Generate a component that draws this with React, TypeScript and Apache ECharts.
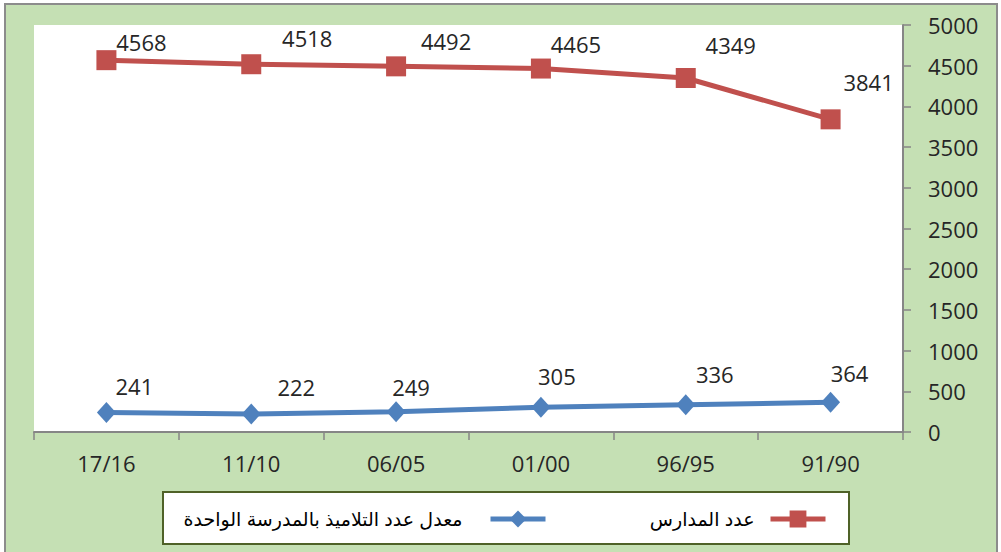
import React, { useEffect, useRef } from "react";
import * as echarts from "echarts";

const categories = ["17/16", "11/10", "06/05", "01/00", "96/95", "91/90"];
const schoolsName = "عدد المدارس";
const avgName = "معدل عدد التلاميذ بالمدرسة الواحدة";
const schools = [4568, 4518, 4492, 4465, 4349, 3841];
const avgPupils = [241, 222, 249, 305, 336, 364];
const yTicks = { min: 0, max: 5000, interval: 500 };

const schoolsLabelOffsets = [
  [35, -18],
  [56, -26],
  [50, -25],
  [35, -25],
  [45, -33],
  [38, -37],
];
const avgLabelOffsets = [
  [28, -26],
  [45, -27],
  [15, -25],
  [16, -31],
  [29, -31],
  [19, -29],
];

const FONT = "'Open Sans', 'Noto Sans', sans-serif";
const AR_FONT = "'Liberation Sans', 'DejaVu Sans', sans-serif";
const RED = "#C0504D";
const BLUE = "#4F81BD";
const AXIS = "#868686";
const TEXT = "#262626";

export default function App() {
  const ref = useRef<HTMLDivElement>(null);
  useEffect(() => {
    if (!ref.current) return;
    const chart = echarts.init(ref.current, null, { renderer: "svg" });
    const labelBase = {
      show: true,
      position: "inside",
      fontSize: 22,
      fontFamily: FONT,
      color: TEXT,
    };
    const legendBase = {
      top: 509.5,
      padding: 0,
      itemWidth: 55,
      itemHeight: 21,
      align: "right",
      lineStyle: { width: 5 },
    };
    chart.setOption({
      animation: false,
      backgroundColor: "#ffffff",
      graphic: [
        {
          type: "rect",
          z: -10,
          shape: { x: 5, y: 4, width: 992, height: 560 },
          style: { fill: "#C5E0B4", stroke: "#8C8C8C", lineWidth: 2 },
        },
        {
          type: "rect",
          z: 1,
          shape: { x: 163, y: 492, width: 686, height: 52 },
          style: { fill: "#ffffff", stroke: "#4F6228", lineWidth: 2 },
        },
      ],
      grid: {
        left: 34,
        top: 25,
        right: 98,
        bottom: 120,
        show: true,
        backgroundColor: "#ffffff",
        borderWidth: 0,
      },
      legend: [
        {
          ...legendBase,
          data: [schoolsName],
          right: 173,
          textStyle: { fontSize: 19, fontFamily: AR_FONT, color: "#000", padding: [0, 11, 0, 0] },
        },
        {
          ...legendBase,
          data: [avgName],
          right: 453,
          textStyle: { fontSize: 19, fontFamily: AR_FONT, color: "#000", padding: [0, 23, 0, 0] },
        },
      ],
      xAxis: {
        type: "category",
        data: categories,
        boundaryGap: true,
        axisLine: { show: true, lineStyle: { color: AXIS, width: 2 } },
        axisTick: { show: true, length: 8, lineStyle: { color: AXIS, width: 1.5 } },
        axisLabel: { interval: 0, fontSize: 22, fontFamily: FONT, color: TEXT, margin: 20 },
        splitLine: { show: false },
      },
      yAxis: {
        type: "value",
        position: "right",
        min: yTicks.min,
        max: yTicks.max,
        interval: yTicks.interval,
        axisLine: { show: true, lineStyle: { color: AXIS, width: 2 } },
        axisTick: { show: true, length: 8, lineStyle: { color: AXIS, width: 1.5 } },
        axisLabel: {
          fontSize: 22,
          fontFamily: FONT,
          color: TEXT,
          margin: 25,
          formatter: (v: number) => String(v),
        },
        splitLine: { show: false },
      },
      series: [
        {
          name: schoolsName,
          type: "line",
          data: schools.map((v, i) => ({ value: v, label: { offset: schoolsLabelOffsets[i] } })),
          symbol: "rect",
          symbolSize: 20,
          lineStyle: { color: RED, width: 5 },
          itemStyle: { color: RED },
          label: labelBase,
          z: 3,
        },
        {
          name: avgName,
          type: "line",
          data: avgPupils.map((v, i) => ({ value: v, label: { offset: avgLabelOffsets[i] } })),
          symbol: "diamond",
          symbolSize: [19, 21],
          lineStyle: { color: BLUE, width: 5 },
          itemStyle: { color: BLUE },
          label: labelBase,
          z: 3,
        },
      ],
    });
    return () => chart.dispose();
  }, []);
  return (
    <div
      ref={ref}
      style={{ position: "absolute", left: 0, top: 0, width: 1001, height: 552 }}
    />
  );
}
